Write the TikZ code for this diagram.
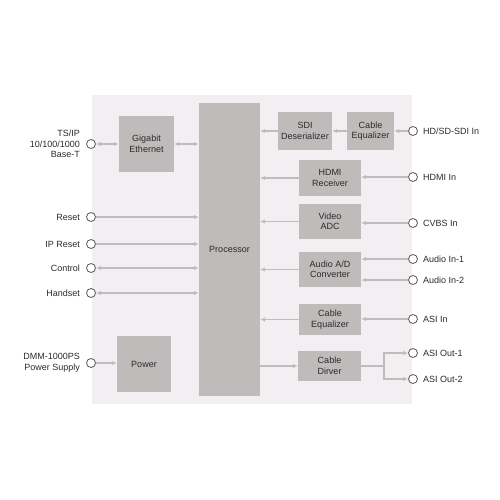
\documentclass[tikz,border=0pt]{standalone}
\usepackage{fontspec}
\setmainfont{Liberation Sans}
\usetikzlibrary{positioning,arrows.meta}
\definecolor{bgpink}{HTML}{F3EEF2}
\definecolor{boxgray}{HTML}{BFBBBB}
\definecolor{linegray}{HTML}{BDBDBD}
\definecolor{txtgray}{HTML}{2A2A2A}
\tikzset{
        txt/.style={text=txtgray, font=\fontsize{9}{10.5}\selectfont, inner sep=0pt},
        blk/.style={txt, fill=boxgray, align=center},
        port/.style={circle, draw=black!65, fill=white, line width=0.8pt, minimum size=9pt, inner sep=0pt},
        sig/.style={draw=linegray, line width=1.3pt, -{Latex[length=5pt,width=4.5pt]}},
        bisig/.style={sig, {Latex[length=5pt,width=4.5pt]}-{Latex[length=5pt,width=4.5pt]}},
        plain/.style={draw=linegray, line width=1.3pt}
}
\begin{document}
\begin{tikzpicture}[x=1pt, y=-1pt]
        \useasboundingbox (0,0) rectangle (500,500);
        \fill[bgpink] (92,95) rectangle (412,404);
        % blocks
        \node[blk, minimum width=61pt, minimum height=293pt] (proc) at (229.5,249.5) {Processor};
        \node[blk, minimum width=55pt, minimum height=56pt] (gige) at (146.5,144) {Gigabit\\Ethernet};
        \node[blk, minimum width=54pt, minimum height=56pt] (power) at (144,364) {Power};
        \node[blk, minimum width=54pt, minimum height=37pt] (sdides) at (305,131) {SDI\\Deserializer};
        \node[blk, minimum width=47pt, minimum height=38pt] (cabeqa) at (370.5,131) {Cable\\Equalizer};
        \node[blk, minimum width=62pt, minimum height=36pt] (hdmirx) at (330,178) {HDMI\\Receiver};
        \node[blk, minimum width=62pt, minimum height=35pt] (vadc) at (330,221.5) {Video\\ADC};
        \node[blk, minimum width=62pt, minimum height=35pt] (audad) at (330,269.5) {Audio A/D\\Converter};
        \node[blk, minimum width=62pt, minimum height=31pt] (cabeqb) at (330,319.5) {Cable\\Equalizer};
        \node[blk, minimum width=63pt, minimum height=30pt] (cabdrv) at (329.5,366) {Cable\\Dirver};

        % ports on the left
        \node[port] (ts) at (91,144) {};
        \node[txt, left=6pt of ts, align=right] (tslbl) {TS/IP\\10/100/1000\\Base-T};
        \node[port] (pwr) at (91,363) {};
        \node[txt, left=6pt of pwr, align=right] (pwrlbl) {DMM-1000PS\\Power Supply};
        \foreach \n/\y/\t in {reset/217/Reset, iprst/244/IP Reset, ctrl/268/Control, hset/293/Handset} {
                \node[port] (\n) at (91,\y) {};
                \node[txt, left=6pt of \n] (\n lbl) {\t};
            }

        % ports on the right
        \foreach \n/\y/\t in {sdi/131/{HD/SD-SDI In}, hdmi/177/HDMI In, cvbs/223/CVBS In, auda/259/Audio In-1, audb/280/Audio In-2, asi/319/ASI In, outa/353/ASI Out-1, outb/379/ASI Out-2} {
                \node[port] (\n) at (413,\y) {};
                \node[txt, right=5pt of \n] (\n lbl) {\t};
            }

        % left connections
        \draw[bisig] (ts) -- (gige.west |- ts);
        \draw[bisig] (gige) -- (proc.west |- gige);
        \draw[sig] (reset) -- (proc.west |- reset);
        \draw[sig] (iprst) -- (proc.west |- iprst);
        \draw[bisig] (ctrl) -- (proc.west |- ctrl);
        \draw[bisig] (hset) -- (proc.west |- hset);
        \draw[sig] (pwr) -- (power.west |- pwr);

        % right connections
        \draw[sig] (sdi) -- (cabeqa.east |- sdi);
        \draw[sig] (cabeqa) -- (sdides);
        \draw[sig] (sdides) -- (proc.east |- sdides);
        \draw[sig] (hdmi) -- (hdmirx.east |- hdmi);
        \draw[sig] (hdmirx) -- (proc.east |- hdmirx);
        \draw[sig] (cvbs) -- (vadc.east |- cvbs);
        \draw[sig] (vadc) -- (proc.east |- vadc);
        \draw[sig] (auda) -- (audad.east |- auda);
        \draw[sig] (audb) -- (audad.east |- audb);
        \draw[sig] (audad) -- (proc.east |- audad);
        \draw[sig] (asi) -- (cabeqb.east |- asi);
        \draw[sig] (cabeqb) -- (proc.east |- cabeqb);
        \draw[sig] (proc.east |- cabdrv) -- (cabdrv);
        \coordinate (split) at (384,366);
        \draw[plain] (cabdrv) -- (split);
        \draw[sig] (split) |- (outa);
        \draw[sig] (split) |- (outb);
\end{tikzpicture}
\end{document}
